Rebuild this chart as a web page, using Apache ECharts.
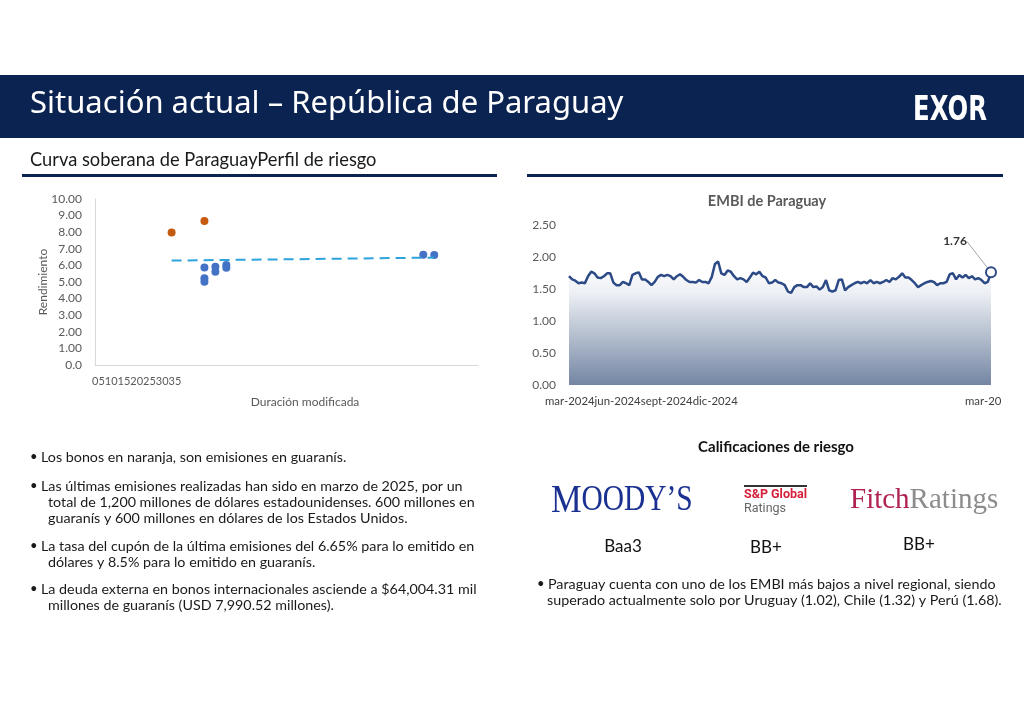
<!DOCTYPE html>
<html><head><meta charset="utf-8">
<script src="https://cdn.jsdelivr.net/npm/echarts/dist/echarts.min.js"></script>
<style>html,body{margin:0;padding:0;background:#fff;}#c{width:1024px;height:724px;}</style>
</head><body><div id="c"></div>
<script>
// ---- data ----
const usdBonds = [[10,5.88],[10,5.22],[10,5.01],[11,5.92],[11,5.62],[12,6.02],[12,5.86],[30,6.64],[31,6.62]];
const pygBonds = [[7,7.98],[10,8.68]];
const trendLine = [[7,6.29],[31,6.47]];
const durationTicks = ['0','5','10','15','20','25','30','35'];
const embiValues = [
1.70,1.65,1.63,1.59,1.60,1.59,1.70,1.77,1.745,1.68,1.67,1.70,1.745,1.745,1.60,1.56,1.56,1.61,1.59,1.56,
1.72,1.745,1.76,1.65,1.65,1.61,1.56,1.61,1.69,1.72,1.70,1.72,1.70,1.65,1.70,1.73,1.69,1.64,1.61,1.61,
1.60,1.64,1.61,1.61,1.59,1.69,1.89,1.93,1.745,1.72,1.79,1.77,1.70,1.65,1.67,1.65,1.61,1.68,1.755,1.73,
1.77,1.70,1.68,1.59,1.60,1.64,1.60,
1.59,1.56,1.46,1.44,1.53,1.56,1.56,1.53,1.53,1.59,1.53,1.54,1.49,1.53,1.64,1.48,1.46,1.48,1.64,1.65,
1.48,1.53,1.56,1.59,1.61,1.59,1.61,1.59,1.64,1.59,1.61,1.59,1.61,1.64,1.61,1.67,1.65,1.69,1.745,1.68,
1.68,1.64,1.59,1.53,1.56,1.59,1.61,1.625,1.61,1.56,1.59,1.59,1.61,1.73,1.745,1.65,1.72,1.68,1.72,1.67,
1.70,1.65,1.67,1.64,1.59,1.61,1.76];
const embiDateLabels = ['mar-2024','jun-2024','sept-2024','dic-2024'];
const embiEndLabel = 'mar-20';
const ratings = ['Baa3','BB+','BB+'];
const leftBullets = [
  ['Los bonos en naranja, son emisiones en guaranís.'],
  ['Las últimas emisiones realizadas han sido en marzo de 2025, por un','total de 1,200 millones de dólares estadounidenses. 600 millones en','guaranís y 600 millones en dólares de los Estados Unidos.'],
  ['La tasa del cupón de la última emisiones del 6.65% para lo emitido en','dólares y 8.5% para lo emitido en guaranís.'],
  ['La deuda externa en bonos internacionales asciende a $64,004.31 mil','millones de guaranís (USD 7,990.52 millones).']
];
const rightBullet = ['Paraguay cuenta con uno de los EMBI más bajos a nivel regional, siendo','superado actualmente solo por Uruguay (1.02), Chile (1.32) y Perú (1.68).'];

// ---- style ----
const NAVY = '#0b2351';
const FONT = 'Lato';
const GRAY = '#595959';
const chart = echarts.init(document.getElementById('c'));

function txt(x, y, text, o) {
  o = o || {};
  return {type:'text', x:x, y:y, scaleX:o.scaleX||1, style:{text:text, x:0, y:0,
    fontFamily:o.font||FONT, fontSize:o.size||14, fontWeight:o.weight||'normal', fill:o.color||'#1a1a1a',
    align:o.align||'left', textAlign:o.align||'left', verticalAlign:'middle', textVerticalAlign:'middle', rich:o.rich}};
}
const g = [];
g.push({type:'rect', shape:{x:0,y:75,width:1024,height:63}, style:{fill:NAVY}});
g.push(txt(30,104,'Situación actual – República de Paraguay',{font:'Noto Sans',size:31,color:'#fff'}));
g.push(txt(913,111,'EXOR',{font:'DejaVu Sans Condensed',size:33,weight:'bold',color:'#fff',scaleX:0.82}));
g.push(txt(30,160,'Curva soberana de ParaguayPerfil de riesgo',{size:18.3,color:'#1a1a1a'}));
g.push({type:'rect', shape:{x:22,y:174,width:475,height:3}, style:{fill:NAVY}});
g.push({type:'rect', shape:{x:527,y:174,width:476,height:3}, style:{fill:NAVY}});
// scatter axis texts
g.push(txt(92,381,durationTicks.join(''),{size:11,color:GRAY}));
g.push(txt(305,402,'Duración modificada',{size:12,color:GRAY,align:'center'}));
g.push({type:'text', x:43, y:282, rotation:Math.PI/2, style:{text:'Rendimiento', x:0,y:0, fontFamily:FONT, fontSize:12, fill:GRAY, align:'center', textAlign:'center', verticalAlign:'middle', textVerticalAlign:'middle'}});
// embi texts
g.push(txt(767,201,'EMBI de Paraguay',{size:14.5,weight:'bold',color:GRAY,align:'center'}));
g.push(txt(545,401,embiDateLabels.join(''),{size:11.4,color:'#404040'}));
g.push(txt(965,401,embiEndLabel,{size:11.4,color:'#404040'}));
// left bullets
const lbY = [[457],[486,502,518],[546,562],[589,605]];
leftBullets.forEach((lines,i)=>{
  g.push(txt(30,lbY[i][0],'•',{size:13}));
  lines.forEach((l,j)=>g.push(txt(j===0?41:48,lbY[i][j],l,{size:14.3})));
});
// ratings
g.push(txt(776,447,'Calificaciones de riesgo',{size:15,weight:'bold',color:'#111',align:'center'}));
g.push(txt(551,501,'{a|M}{b|OODY’S}',{font:'Liberation Serif',scaleX:0.84,rich:{
  a:{fontFamily:'Liberation Serif',fontSize:41,fill:'#1b3191',color:'#1b3191'},
  b:{fontFamily:'Liberation Serif',fontSize:35,fill:'#1b3191',color:'#1b3191'}}}));
g.push({type:'rect', shape:{x:744,y:485,width:63,height:2}, style:{fill:'#333'}});
g.push(txt(744,495,'S&P Global',{font:'Roboto',size:12.5,weight:'bold',color:'#d5203b'}));
g.push(txt(744,509,'Ratings',{font:'Roboto',size:12.5,color:'#666'}));
g.push(txt(850,500,'{a|Fitch}{b|Ratings}',{font:'Liberation Serif',rich:{
  a:{fontFamily:'Liberation Serif',fontSize:29,fill:'#b0224f',color:'#b0224f'},
  b:{fontFamily:'Liberation Serif',fontSize:29,fill:'#8c8c8c',color:'#8c8c8c'}}}));
const ratingX = [623,766,919], ratingY = [547,548,545];
ratings.forEach((r,i)=>g.push(txt(ratingX[i],ratingY[i],r,{size:17,align:'center',color:'#111'})));
g.push(txt(537,584,'•',{size:13}));
g.push(txt(548,584,rightBullet[0],{size:14.3}));
g.push(txt(547,600,rightBullet[1],{size:14.3}));

const axisLbl = {fontFamily:FONT, fontSize:12, color:GRAY};
chart.setOption({
  animation:false,
  textStyle:{fontFamily:FONT},
  grid:[
    {left:95, top:199, width:383, height:166},
    {left:569, top:225, width:422, height:160}
  ],
  xAxis:[
    {gridIndex:0, type:'value', min:0, max:35, interval:5, axisLabel:{show:false}, axisTick:{show:false},
     axisLine:{show:true, lineStyle:{color:'#d9d9d9'}}, splitLine:{show:false}},
    {gridIndex:1, type:'category', boundaryGap:false, axisLabel:{show:false}, axisTick:{show:false},
     axisLine:{show:false}, splitLine:{show:false}}
  ],
  yAxis:[
    {gridIndex:0, type:'value', min:0, max:10, interval:1, axisTick:{show:false},
     axisLine:{show:true, lineStyle:{color:'#d9d9d9'}}, splitLine:{show:false},
     axisLabel:Object.assign({margin:13, formatter:v=>v===0?'0.0':v.toFixed(2)},axisLbl)},
    {gridIndex:1, type:'value', min:0, max:2.5, interval:0.5, axisTick:{show:false},
     axisLine:{show:false}, splitLine:{show:false},
     axisLabel:Object.assign({margin:13, formatter:v=>v.toFixed(2)},axisLbl)}
  ],
  series:[
    {type:'line', xAxisIndex:0, yAxisIndex:0, data:trendLine, symbol:'none',
     lineStyle:{color:'#2ea4dc', width:2, type:[10,6]}},
    {type:'scatter', xAxisIndex:0, yAxisIndex:0, data:usdBonds, symbolSize:8, itemStyle:{color:'#4472c4', opacity:1}},
    {type:'scatter', xAxisIndex:0, yAxisIndex:0, data:pygBonds, symbolSize:8, itemStyle:{color:'#c55a11', opacity:1}},
    {type:'line', xAxisIndex:1, yAxisIndex:1, data:embiValues, symbol:'none',
     lineStyle:{color:'#2c4a86', width:2.5},
     areaStyle:{opacity:1, color:new echarts.graphic.LinearGradient(0,0,0,1,[
       {offset:0,color:'#ffffff'},{offset:0.25,color:'#edf0f5'},{offset:1,color:'#7486a3'}])}},
    {type:'scatter', xAxisIndex:1, yAxisIndex:1, z:5,
     data:[[embiValues.length-1, embiValues[embiValues.length-1]]], symbol:'circle', symbolSize:10,
     itemStyle:{color:'#fff', borderColor:'#2c4a86', borderWidth:2, opacity:1},
     label:{show:true, position:'inside', formatter:p=>p.value[1].toFixed(2), fontWeight:'bold', fontSize:12, color:'#333'},
     labelLayout:{dx:-36, dy:-31},
     labelLine:{show:true, length2:0, lineStyle:{color:'#a6a6a6', width:1}}}
  ],
  graphic:g
});
</script></body></html>
